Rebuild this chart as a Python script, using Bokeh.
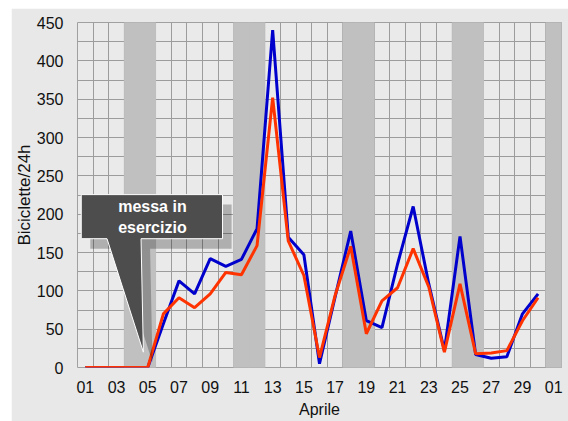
from bokeh.plotting import figure
from bokeh.models import Range1d, FixedTicker
from bokeh.core.properties import value
from bokeh.embed import file_html
from bokeh.resources import INLINE

# ---- data ----
days = list(range(1, 31))
blue_counts = [0, 0, 0, 0, 0, 57, 113, 96, 142, 132, 141, 181, 440, 170, 147, 5, 92,
               178, 61, 52, 135, 210, 109, 22, 171, 17, 12, 14, 70, 96]
red_counts = [0, 0, 0, 0, 0, 70, 91, 78, 96, 124, 121, 159, 352, 165, 120, 13, 94,
              158, 44, 87, 104, 155, 105, 20, 109, 18, 19, 22, 61, 91]
holiday_days = [4, 5, 11, 12, 18, 19, 25, 26, 31]
tick_days = [1, 3, 5, 7, 9, 11, 13, 15, 17, 19, 21, 23, 25, 27, 29, 31]
tick_labels = ["01", "03", "05", "07", "09", "11", "13", "15", "17", "19", "21", "23",
               "25", "27", "29", "01"]
y_ticks = [0, 50, 100, 150, 200, 250, 300, 350, 400, 450]
callout_lines = ["messa in", "esercizio"]

FONT = "Liberation Sans"

p = figure(width=557, height=413, output_backend="svg", toolbar_location=None,
           x_range=Range1d(0.5, 31.5), y_range=Range1d(0, 450),
           min_border_left=66, min_border_right=7, min_border_top=14, min_border_bottom=54,
           background_fill_color="#eaeaea", border_fill_color="#e8e8e8",
           outline_line_color="#a0a0a0", margin=(8, 0, 0, 11))

# grid
p.xgrid.ticker = FixedTicker(ticks=[0.5 + i for i in range(32)])
p.ygrid.ticker = FixedTicker(ticks=list(range(0, 451, 25)))
for g in (p.xgrid, p.ygrid):
    g.grid_line_color = "#9c9c9c"
    g.grid_line_width = 1

# holiday bands
p.vbar(x=holiday_days, width=1, top=450, bottom=0, fill_color="#c0c0c0",
       line_color="#c0c0c0", line_width=1)

# lines
p.line(days, blue_counts, line_color="#0000cc", line_width=3)
p.line(days, red_counts, line_color="#ff3300", line_width=3)

# callout (annotation) in data coordinates
bx0, bx1, by0, by1 = 0.74, 9.79, 168, 225.5
px0, px1, tipx, tipy = 2.39, 4.57, 4.72, 20
cx = [bx0, bx1, bx1, px1, tipx, px0, bx0]
cy = [by1, by1, by0, by0, tipy, by0, by0]
dx, dy = 0.58, -13
p.patch([v + dx for v in cx], [v + dy for v in cy], fill_color="black", fill_alpha=0.25,
        line_color=None)
p.patch(cx, cy, fill_color="#4d4d4d", line_color="white", line_width=1)
p.text(x=[5.3, 5.3], y=[210, 183], text=callout_lines, text_color="white",
       text_font=value(FONT), text_font_size="16px", text_font_style="bold",
       text_align="center", text_baseline="middle")

# axes
p.xaxis.ticker = FixedTicker(ticks=tick_days)
p.xaxis.major_label_overrides = {d: l for d, l in zip(tick_days, tick_labels)}
p.yaxis.ticker = FixedTicker(ticks=y_ticks)
p.xaxis.axis_label = "Aprile"
p.yaxis.axis_label = "Biciclette/24h"
for ax in (p.xaxis[0], p.yaxis[0]):
    ax.axis_line_color = None
    ax.major_tick_line_color = None
    ax.minor_tick_line_color = None
    ax.major_label_text_font = FONT
    ax.major_label_text_font_size = "16px"
    ax.major_label_text_color = "#111111"
    ax.axis_label_text_font = FONT
    ax.axis_label_text_font_style = "normal"
    ax.axis_label_text_color = "#111111"
p.xaxis.major_label_standoff = 7
p.xaxis.axis_label_standoff = 5
p.yaxis.major_label_standoff = 8
p.yaxis.axis_label_standoff = 0
p.xaxis.axis_label_text_font_size = "16px"
p.yaxis.axis_label_text_font_size = "17px"

open("out.html", "w").write(file_html(p, INLINE))
